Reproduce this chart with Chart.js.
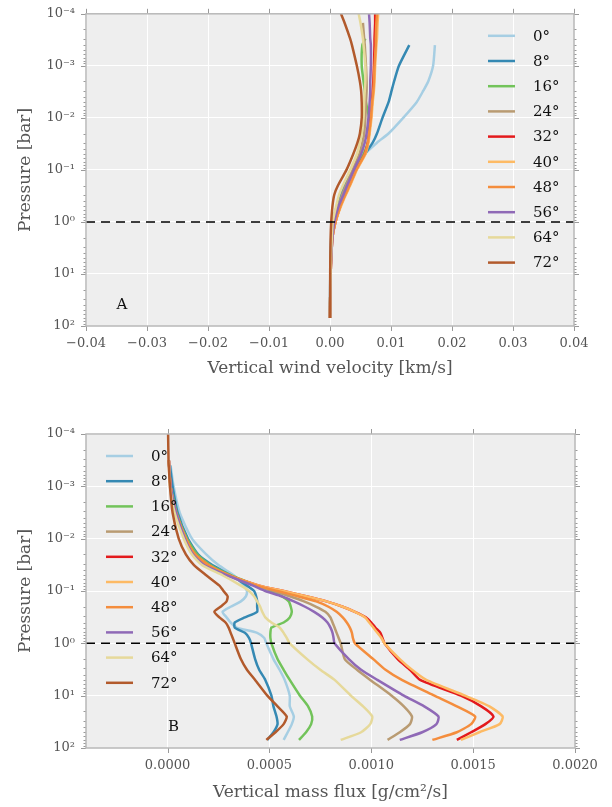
<!DOCTYPE html>
<html>
<head>
<meta charset="utf-8">
<script src="https://cdn.jsdelivr.net/npm/chart.js@4.4.1/dist/chart.umd.min.js"></script>
<style>
  html, body { margin: 0; padding: 0; background: #fff; }
  #wrap { position: relative; width: 612px; height: 807px; }
  canvas { position: absolute; left: 0; }
</style>
</head>
<body>
<div id="wrap">
  <canvas id="windChart" width="612" height="400" style="top:0px"></canvas>
  <canvas id="fluxChart" width="612" height="407" style="top:400px"></canvas>
</div>
<script>
// latitude bands
const latLabels = ['0°', '8°', '16°', '24°', '32°', '40°', '48°', '56°', '64°', '72°'];
const latColors = ['#a6cee3', '#3589b3', '#72c35a', '#b99b72', '#e31a1c', '#fdba64', '#f48d3d', '#8f69b6', '#e6d99a', '#b25a2c'];

// shared y axis (pressure, bar)
const pressureTicks = [1e-4, 1e-3, 1e-2, 1e-1, 1, 10, 100];
const pressureTickLabels = ['10⁻⁴', '10⁻³', '10⁻²', '10⁻¹', '10⁰', '10¹', '10²'];

// panel A: vertical wind velocity [km/s]
const windTicks = [-0.04, -0.03, -0.02, -0.01, 0, 0.01, 0.02, 0.03, 0.04];
const windTickLabels = ['−0.04', '−0.03', '−0.02', '−0.01', '0.00', '0.01', '0.02', '0.03', '0.04'];
const windPressure = [1e-4, 1.5e-4, 3e-4, 4e-4, 1e-3, 2e-3, 3e-3, 5e-3, 0.01, 0.02, 0.03, 0.05, 0.1, 0.2, 0.3, 0.5, 1, 2, 5, 10, 20, 70];
const wind0  = [null, null, null, 0.0172, 0.0169, 0.0161, 0.0153, 0.0142, 0.0120, 0.0096, 0.0077, 0.0057, 0.0041, 0.0026, 0.0019, 0.0012, 0.0006, 0.0003, 0.00015, 0.0001, 0.00005, 0];
const wind8  = [null, null, null, 0.0130, 0.0113, 0.0105, 0.0101, 0.0096, 0.0086, 0.0077, 0.0070, 0.0057, 0.0039, 0.0024, 0.0018, 0.0011, 0.0005, 0.0002, 0.0001, 0.00005, 0.00002, 0];
const wind16 = [null, null, 0.0058, 0.0053, 0.0052, 0.0055, 0.0057, 0.0059, 0.0064, 0.0064, 0.0062, 0.0055, 0.0041, 0.0027, 0.0021, 0.0014, 0.0007, 0.0003, 0.00015, 0.0001, 0.00005, 0];
const wind24 = [null, 0.0054, 0.0056, 0.0057, 0.0059, 0.0060, 0.0060, 0.0059, 0.0058, 0.0056, 0.0053, 0.0048, 0.0037, 0.0026, 0.0020, 0.0014, 0.0007, 0.0003, 0.00015, 0.0001, 0.00005, 0];
const wind32 = [0.0074, 0.0074, 0.0073, 0.0073, 0.0072, 0.0071, 0.0070, 0.0069, 0.0067, 0.0064, 0.0062, 0.0057, 0.0043, 0.0032, 0.0025, 0.0017, 0.0009, 0.0004, 0.0002, 0.0001, 0.00005, 0];
const wind40 = [0.0079, 0.0078, 0.0077, 0.0076, 0.0074, 0.0073, 0.0072, 0.0070, 0.0068, 0.0065, 0.0063, 0.0058, 0.0044, 0.0033, 0.0026, 0.0018, 0.0009, 0.0004, 0.0002, 0.0001, 0.00005, 0];
const wind48 = [0.0077, 0.0076, 0.0075, 0.0075, 0.0073, 0.0072, 0.0071, 0.0069, 0.0067, 0.0064, 0.0062, 0.0057, 0.0043, 0.0032, 0.0025, 0.0017, 0.0009, 0.0004, 0.0002, 0.0001, 0.00005, 0];
const wind56 = [0.0064, 0.0065, 0.0066, 0.0067, 0.0067, 0.0066, 0.0066, 0.0065, 0.0063, 0.0060, 0.0057, 0.0051, 0.0039, 0.0028, 0.0022, 0.0014, 0.0007, 0.0004, 0.0002, 0.0001, 0.00005, 0];
const wind64 = [0.0047, 0.0050, 0.0054, 0.0055, 0.0058, 0.0058, 0.0057, 0.0056, 0.0055, 0.0052, 0.0049, 0.0044, 0.0033, 0.0021, 0.0015, 0.0010, 0.00045, 0.0003, 0.00015, 0.0001, 0.00005, 0];
const wind72 = [0.0018, 0.0024, 0.0033, 0.0036, 0.0044, 0.0049, 0.0051, 0.0052, 0.0052, 0.0049, 0.0045, 0.0038, 0.0027, 0.0013, 0.0007, 0.0004, 0.0002, 0.0001, 0.00005, 0.00003, 0.00002, 0];

// panel B: vertical mass flux, values in units of 1e-4 g/cm2/s
const fluxUnit = 1e-4;
const fluxTicks = [0, 0.0005, 0.001, 0.0015, 0.002];
const fluxTickLabels = ['0.0000', '0.0005', '0.0010', '0.0015', '0.0020'];
const fluxPressure = [1e-4, 3.2e-4, 4e-4, 1e-3, 3.2e-3, 0.01, 0.02, 0.032, 0.05, 0.079, 0.1, 0.126, 0.158, 0.2, 0.25, 0.32, 0.4, 0.5, 0.63, 0.79, 1, 2, 3.2, 5, 10, 16, 25, 35, 50, 70];
const flux0  = [null, null, 0.15, 0.3, 0.6, 1.2, 1.9, 2.5, 3.25, 3.75, 3.9, 3.85, 3.6, 3.1, 2.7, 2.9, 3.1, 3.4, 4.4, 4.75, 4.85, 5.2, 5.5, 5.75, 6.0, 6.0, 6.2, 6.1, 5.9, 5.7];
const flux8  = [null, null, 0.12, 0.25, 0.5, 1.0, 1.5, 2.2, 3.1, 3.9, 4.25, 4.35, 4.4, 4.4, 4.4, 3.8, 3.3, 3.3, 3.8, 4.0, 4.1, 4.3, 4.5, 4.8, 5.1, 5.2, 5.35, 5.4, 5.2, 4.9];
const flux16 = [null, null, null, 0.15, 0.45, 0.95, 1.45, 2.1, 3.1, 4.4, 5.1, 5.6, 5.95, 6.05, 6.1, 6.0, 5.7, 5.1, 5.05, 5.05, 5.1, 5.4, 5.7, 6.0, 6.5, 6.9, 7.1, 7.05, 6.8, 6.45];
const flux24 = [null, 0.07, 0.08, 0.15, 0.42, 0.9, 1.35, 2.0, 3.0, 4.3, 5.2, 6.0, 6.7, 7.3, 7.75, 8.0, 8.1, 8.2, 8.3, 8.4, 8.5, 8.7, 9.3, 9.95, 11.0, 11.6, 12.0, 11.9, 11.4, 10.8];
const flux32 = [null, 0.07, 0.08, 0.15, 0.42, 0.9, 1.35, 2.0, 3.0, 4.5, 5.7, 6.8, 7.8, 8.6, 9.2, 9.75, 10.0, 10.2, 10.45, 10.55, 10.65, 11.3, 11.9, 12.4, 14.4, 15.4, 16.0, 15.6, 14.9, 14.2];
const flux40 = [null, 0.07, 0.08, 0.15, 0.42, 0.9, 1.35, 2.0, 3.0, 4.5, 5.7, 6.8, 7.8, 8.6, 9.2, 9.7, 9.9, 10.1, 10.3, 10.5, 10.65, 11.4, 12.0, 12.7, 14.6, 15.8, 16.45, 16.3, 15.3, 14.4];
const flux48 = [null, 0.07, 0.08, 0.15, 0.42, 0.9, 1.35, 2.0, 3.0, 4.4, 5.4, 6.4, 7.3, 7.9, 8.3, 8.6, 8.8, 8.95, 9.05, 9.1, 9.2, 10.1, 10.7, 11.5, 13.1, 14.2, 15.1, 14.9, 14.2, 13.0];
const flux56 = [null, 0.07, 0.08, 0.15, 0.42, 0.85, 1.25, 1.8, 2.9, 4.2, 4.8, 5.6, 6.2, 6.75, 7.2, 7.6, 7.85, 8.0, 8.1, 8.15, 8.2, 8.9, 9.5, 10.3, 11.6, 12.6, 13.3, 13.2, 12.5, 11.4];
const flux64 = [null, 0.06, 0.07, 0.12, 0.35, 0.8, 1.2, 1.7, 2.7, 3.6, 4.0, 4.25, 4.4, 4.55, 4.65, 4.8, 5.1, 5.5, 5.7, 5.85, 6.0, 6.85, 7.5, 8.2, 9.0, 9.6, 10.05, 9.95, 9.5, 8.5];
const flux72 = [0.03, 0.05, 0.06, 0.12, 0.25, 0.55, 0.9, 1.3, 1.9, 2.55, 2.75, 2.95, 2.9, 2.6, 2.3, 2.55, 2.85, 3.0, 3.1, 3.2, 3.3, 3.6, 3.9, 4.3, 4.9, 5.4, 5.85, 5.7, 5.3, 4.85];

const windSeries = [wind0, wind8, wind16, wind24, wind32, wind40, wind48, wind56, wind64, wind72];
const fluxSeries = [flux0, flux8, flux16, flux24, flux32, flux40, flux48, flux56, flux64, flux72];

const FONT = "'DejaVu Serif', serif";
const TEXT = '#555555';

// minor ticks 2..9 in each decade
const allPressureTicks = [];
pressureTicks.forEach((p, i) => {
  allPressureTicks.push(p);
  if (i < pressureTicks.length - 1) {
    for (let m = 2; m <= 9; m++) allPressureTicks.push(m * p);
  }
});

function toPoints(pressure, values, unit) {
  const pts = [];
  values.forEach((v, i) => {
    if (v !== null) pts.push({x: v * unit, y: pressure[i]});
  });
  return pts;
}

function buildDatasets(pressure, series, unit, xmin, xmax) {
  const ds = series.map((vals, i) => ({
    label: latLabels[i],
    data: toPoints(pressure, vals, unit),
    borderColor: latColors[i],
    backgroundColor: latColors[i],
    borderWidth: 2.5,
    showLine: true,
    pointRadius: 0,
    tension: 0.2,
    order: -i
  }));
  ds.push({
    label: 'p = 1 bar',
    data: [{x: xmin, y: 1}, {x: xmax, y: 1}],
    borderColor: '#000',
    borderWidth: 1.5,
    borderDash: [9, 6],
    showLine: true,
    pointRadius: 0,
    order: -100
  });
  return ds;
}

// background, frame, outside ticks, legend and panel letter
const panelDecor = {
  id: 'panelDecor',
  beforeDraw(chart) {
    const {ctx, chartArea: a} = chart;
    ctx.save();
    ctx.fillStyle = '#eeeeee';
    ctx.fillRect(a.left, a.top, a.right - a.left, a.bottom - a.top);
    ctx.restore();
  },
  afterDraw(chart, args, opts) {
    const {ctx, chartArea: a, scales} = chart;
    ctx.save();
    // ticks
    ctx.strokeStyle = '#9a9a9a';
    ctx.lineWidth = 1;
    ctx.beginPath();
    scales.x.ticks.forEach(t => {
      const px = Math.round(scales.x.getPixelForValue(t.value)) + 0.5;
      ctx.moveTo(px, a.bottom); ctx.lineTo(px, a.bottom + 5);
      ctx.moveTo(px, a.top); ctx.lineTo(px, a.top - 5);
    });
    scales.y.ticks.forEach(t => {
      const py = Math.round(scales.y.getPixelForValue(t.value)) + 0.5;
      const len = pressureTicks.includes(t.value) ? 5 : 2.5;
      ctx.moveTo(a.left, py); ctx.lineTo(a.left - len, py);
      ctx.moveTo(a.right, py); ctx.lineTo(a.right + len, py);
    });
    ctx.stroke();
    // frame
    ctx.strokeStyle = '#b8b8b8';
    ctx.lineWidth = 1.5;
    ctx.strokeRect(a.left, a.top, a.right - a.left, a.bottom - a.top);

    // legend
    const lx = opts.legendSide === 'right' ? a.right - 86 : a.left + 20;
    const y0 = a.top + 22;
    ctx.font = '15px ' + FONT;
    ctx.textBaseline = 'middle';
    ctx.textAlign = 'left';
    latLabels.forEach((lab, i) => {
      const y = y0 + i * 25.2;
      ctx.strokeStyle = latColors[i];
      ctx.lineWidth = 2.5;
      ctx.beginPath();
      ctx.moveTo(lx, y); ctx.lineTo(lx + 27, y);
      ctx.stroke();
      ctx.fillStyle = '#111';
      ctx.fillText(lab, lx + 45, y + 1);
    });

    // panel letter
    ctx.fillStyle = '#111';
    ctx.font = '15px ' + FONT;
    ctx.textAlign = 'center';
    ctx.fillText(opts.letter, scales.x.getPixelForValue(opts.letterAt[0]), scales.y.getPixelForValue(opts.letterAt[1]));
    ctx.restore();
  }
};

function makePanel(id, cfg) {
  return new Chart(document.getElementById(id), {
    type: 'scatter',
    data: {datasets: buildDatasets(cfg.pressure, cfg.series, cfg.unit, cfg.xmin, cfg.xmax)},
    plugins: [panelDecor],
    options: {
      responsive: false,
      animation: false,
      layout: {padding: {top: cfg.padTop, right: cfg.padRight, left: 0, bottom: 0}},
      plugins: {
        legend: {display: false},
        tooltip: {enabled: false},
        panelDecor: {legendSide: cfg.legendSide, letter: cfg.letter, letterAt: cfg.letterAt}
      },
      scales: {
        x: {
          type: 'linear',
          min: cfg.xmin,
          max: cfg.xmax,
          afterBuildTicks: s => { s.ticks = cfg.xticks.map(v => ({value: v})); },
          afterFit: s => { s.height = cfg.xHeight; },
          ticks: {
            autoSkip: false, maxRotation: 0, padding: 5, color: TEXT,
            font: {family: FONT, size: 13},
            callback: (v, i) => cfg.xlabels[i]
          },
          grid: {color: '#ffffff', lineWidth: 1, tickLength: 5, tickColor: 'rgba(0,0,0,0)'},
          border: {display: false},
          title: {
            display: true, text: cfg.xtitle, color: TEXT,
            font: {family: FONT, size: 17},
            padding: {top: 0, bottom: cfg.xTitlePad}
          }
        },
        y: {
          type: 'logarithmic',
          reverse: true,
          min: 1e-4,
          max: 100,
          afterBuildTicks: s => { s.ticks = allPressureTicks.map(v => ({value: v})); },
          afterFit: s => { s.width = 86; },
          ticks: {
            autoSkip: false, padding: 6, color: TEXT,
            font: {family: FONT, size: 13},
            callback: v => {
              const k = pressureTicks.indexOf(v);
              return k >= 0 ? pressureTickLabels[k] : '';
            }
          },
          grid: {
            color: c => pressureTicks.includes(c.tick.value) ? '#ffffff' : 'rgba(0,0,0,0)',
            lineWidth: 1, tickLength: 5, tickColor: 'rgba(0,0,0,0)'
          },
          border: {display: false},
          title: {
            display: true, text: 'Pressure [bar]', color: TEXT,
            font: {family: FONT, size: 17},
            padding: {top: 15, bottom: 0}
          }
        }
      }
    }
  });
}

makePanel('windChart', {
  pressure: windPressure, series: windSeries, unit: 1,
  xmin: -0.04, xmax: 0.04, xticks: windTicks, xlabels: windTickLabels,
  xtitle: 'Vertical wind velocity [km/s]',
  padTop: 11, padRight: 38, xHeight: 74, xTitlePad: 21,
  legendSide: 'right', letter: 'A', letterAt: [-0.0341, 40]
});

makePanel('fluxChart', {
  pressure: fluxPressure, series: fluxSeries, unit: fluxUnit,
  xmin: -0.0004, xmax: 0.002, xticks: fluxTicks, xlabels: fluxTickLabels,
  xtitle: 'Vertical mass flux [g/cm²/s]',
  padTop: 34, padRight: 37, xHeight: 59, xTitlePad: 4,
  legendSide: 'left', letter: 'B', letterAt: [0.00003, 40]
});
</script>
</body>
</html>
